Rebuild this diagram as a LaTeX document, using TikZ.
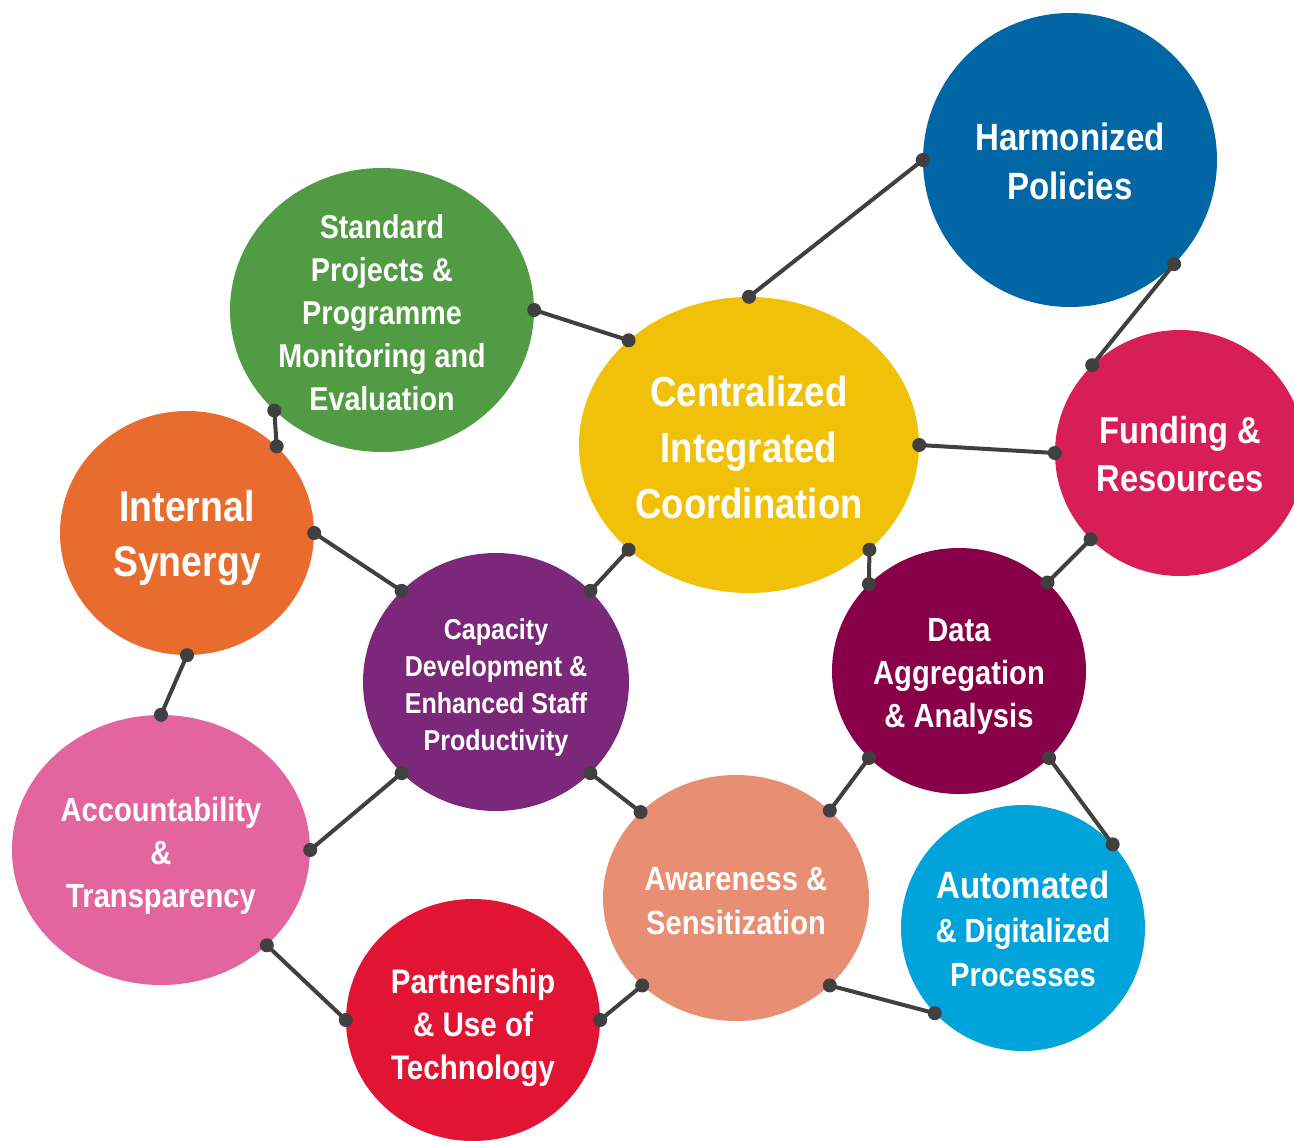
\documentclass[tikz,border=0pt]{standalone}
\usepackage{fontspec}
\usetikzlibrary{shapes.geometric}
\newfontfamily\narrowfont{Liberation Sans}[FakeStretch=0.87]
\definecolor{harmcol}{RGB}{0,102,164}
\definecolor{standcol}{RGB}{82,155,69}
\definecolor{centcol}{RGB}{241,193,10}
\definecolor{fundcol}{RGB}{216,30,86}
\definecolor{syncol}{RGB}{232,108,46}
\definecolor{capcol}{RGB}{123,40,122}
\definecolor{datacol}{RGB}{135,0,72}
\definecolor{acctcol}{RGB}{226,102,157}
\definecolor{awarecol}{RGB}{232,142,114}
\definecolor{autocol}{RGB}{0,163,218}
\definecolor{partcol}{RGB}{226,20,52}
\definecolor{linkcol}{RGB}{64,64,64}
\newcommand{\bubblefont}[2]{\narrowfont\bfseries\fontsize{#1}{#2}\selectfont}
% tall strut on the first line pushes the text block down by #1
\newcommand{\sink}[1]{\rule{0pt}{\dimexpr\fontcharht\font`d+#1pt*2\relax}}
\newcommand{\joindots}[2]{\draw[link] (#1) -- (#2); \fill[linkcol] (#1) circle (7pt) (#2) circle (7pt);}

\begin{document}
\begin{tikzpicture}[x=1pt,y=-1pt,
    bubble/.style={ellipse, inner sep=-10pt, align=center, text=white},
    link/.style={line width=4pt, draw=linkcol}]
\useasboundingbox (0,0) rectangle (1294,1141);
% the bubbles
\node[bubble, fill=harmcol, minimum width=294, minimum height=294, font=\bubblefont{38}{49}] (harm) at (1070,160) {\sink{2}Harmonized\\Policies};
\node[bubble, fill=standcol, minimum width=304, minimum height=284, font=\bubblefont{33}{43}] (stand) at (382,310) {\sink{3}Standard\\Projects \&\\Programme\\Monitoring and\\Evaluation};
\node[bubble, fill=centcol, minimum width=340, minimum height=296, font=\bubblefont{42}{56}] (cent) at (749,445) {\sink{3}Centralized\\Integrated\\Coordination};
\node[bubble, fill=fundcol, minimum width=250, minimum height=246, font=\bubblefont{37.5}{48}] (fund) at (1180,453) {\sink{1.5}Funding \&\\Resources};
\node[bubble, fill=syncol, minimum width=254, minimum height=244, font=\bubblefont{43}{55}] (syn) at (187,533) {\sink{6}Internal\\Synergy};
\node[bubble, fill=capcol, minimum width=266, minimum height=258, font=\bubblefont{28.8}{37}] (cap) at (496,682) {\sink{6}Capacity\\Development \&\\Enhanced Staff\\Productivity};
\node[bubble, fill=datacol, minimum width=254, minimum height=246, font=\bubblefont{33.5}{43}] (data) at (959,671) {\sink{5}Data\\Aggregation\\\& Analysis};
\node[bubble, fill=acctcol, minimum width=298, minimum height=270, font=\bubblefont{33.5}{43}] (acct) at (161,850) {\sink{6}Accountability\\\&\\Transparency};
\node[bubble, fill=awarecol, minimum width=266, minimum height=246, font=\bubblefont{33.5}{44}] (aware) at (736,898) {\sink{3.5}Awareness \&\\Sensitization};
\node[bubble, fill=autocol, minimum width=244, minimum height=246, font=\bubblefont{33.5}{44}] (auto) at (1023,928) {{\fontsize{38}{44}\selectfont\sink{2}Automated}\\\& Digitalized\\Processes};
\node[bubble, fill=partcol, minimum width=254, minimum height=242, font=\bubblefont{34}{43}] (part) at (473,1020) {\sink{8}Partnership\\\& Use of\\Technology};
% the links
\joindots{cent.90}{harm.180}
\joindots{harm.-45}{fund.135}
\joindots{stand.0}{cent.139}
\joindots{cent.0}{fund.180}
\joindots{stand.-137}{syn.44}
\joindots{syn.0}{cap.136}
\joindots{cent.-139}{cap.44}
\joindots{cent.-41}{data.136}
\joindots{fund.-136}{data.45}
\joindots{syn.-90}{acct.90}
\joindots{cap.-136}{acct.0}
\joindots{cap.-44}{aware.138}
\joindots{data.-136}{aware.43}
\joindots{data.-44}{auto.43}
\joindots{acct.-42}{part.180}
\joindots{part.0}{aware.-137}
\joindots{aware.-43}{auto.-136}
\end{tikzpicture}
\end{document}
